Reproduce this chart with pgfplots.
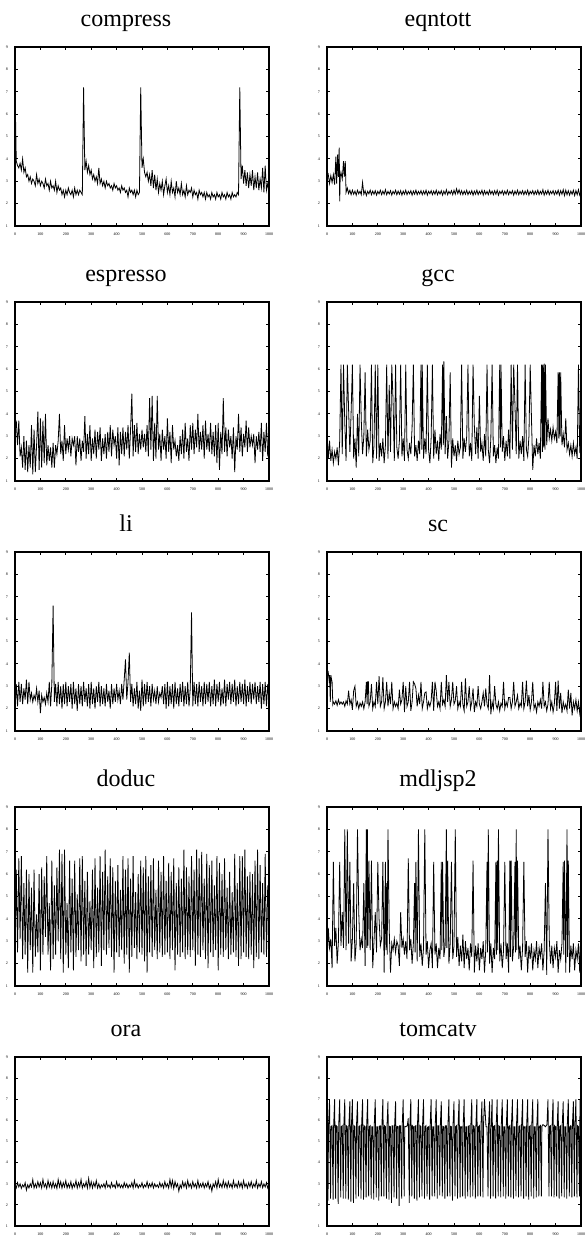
\documentclass[border=0pt]{standalone}
\usepackage{fontspec}
\setmainfont{Liberation Serif}
\usepackage{pgfplots}
\pgfplotsset{compat=1.18}

\pgfplotsset{
  pane/.style={
    scale only axis, width=127pt, height=89.5pt, anchor=north west,
    xmin=0, xmax=1000, ymin=1, ymax=9,
    xtick={0,100,...,1000}, ytick={1,2,...,9},
    tick align=inside, major tick length=1.5pt,
    tick style={line width=0.4pt, black},
    axis line style={line width=0.6pt},
    tick label style={font=\fontsize{2}{2.4}\selectfont, /pgf/number format/assume math mode=true, /pgf/number format/1000 sep={}},
    every axis title/.style={at={(0.5,1)}, anchor=base, yshift=10.5pt, xshift=-8pt, font=\fontsize{12}{14}\selectfont},
    cycle list={{black, line width=1.1pt, mark=none, line join=round}},
  }
}

\begin{document}
\begin{tikzpicture}
\path[use as bounding box] (0,0) rectangle (292pt,-621.5pt);

% row 1
\begin{axis}[pane, at={(7.5pt,-23.5pt)}, title={compress}]
\addplot coordinates {(0,7.2)(5,3.9)(10,3.7)(15,3.6)(20,3.8)(25,3.5)(30,4.0)(35,3.4)(40,3.6)(45,3.2)
(50,3.3)(55,3.0)(60,3.2)(65,2.9)(70,3.1)(75,3.0)(80,2.8)(85,3.3)(90,2.9)(95,3.1)
(100,2.8)(105,3.0)(110,2.9)(115,2.7)(120,3.1)(125,2.8)(130,2.9)(135,2.6)(140,3.0)(145,2.7)
(150,2.8)(155,2.6)(160,3.0)(165,2.5)(170,2.8)(175,2.6)(180,2.7)(185,2.4)(190,2.6)(195,2.3)
(200,2.6)(205,2.4)(210,2.7)(215,2.5)(220,2.4)(225,2.6)(230,2.3)(235,2.7)(240,2.4)(245,2.6)
(250,2.4)(255,2.6)(260,2.5)(265,2.4)(270,7.2)(275,3.5)(280,3.9)(285,3.4)(290,3.7)(295,3.3)
(300,3.5)(305,3.1)(310,3.3)(315,3.0)(320,3.2)(325,2.9)(330,3.6)(335,2.9)(340,3.1)(345,2.8)
(350,3.0)(355,2.7)(360,3.0)(365,2.8)(370,2.9)(375,2.7)(380,2.8)(385,2.6)(390,2.9)(395,2.7)
(400,2.8)(405,2.6)(410,2.7)(415,2.5)(420,2.8)(425,2.6)(430,2.7)(435,2.5)(440,2.6)(445,2.3)
(450,2.7)(455,2.5)(460,2.6)(465,2.4)(470,2.6)(475,2.3)(480,2.6)(485,2.4)(490,2.5)(495,7.2)
(500,3.6)(505,4.0)(510,3.4)(515,3.2)(520,3.4)(525,3.0)(530,3.3)(535,2.8)(540,3.5)(545,2.7)
(550,3.3)(555,2.6)(560,3.1)(565,2.5)(570,2.9)(575,2.6)(580,3.0)(585,2.4)(590,2.8)(595,3.1)
(600,2.5)(605,2.8)(610,2.4)(615,3.0)(620,2.5)(625,2.7)(630,2.3)(635,3.0)(640,2.5)(645,2.7)
(650,2.4)(655,2.9)(660,2.4)(665,2.6)(670,2.3)(675,2.8)(680,2.4)(685,2.6)(690,2.5)(695,2.7)
(700,2.3)(705,2.6)(710,2.4)(715,2.5)(720,2.2)(725,2.6)(730,2.4)(735,2.5)(740,2.3)(745,2.5)
(750,2.2)(755,2.5)(760,2.3)(765,2.4)(770,2.2)(775,2.5)(780,2.3)(785,2.4)(790,2.2)(795,2.5)
(800,2.3)(805,2.4)(810,2.2)(815,2.5)(820,2.3)(825,2.4)(830,2.2)(835,2.5)(840,2.3)(845,2.4)
(850,2.2)(855,2.5)(860,2.3)(865,2.4)(870,2.3)(875,2.5)(880,2.4)(885,7.2)(890,3.1)(895,3.7)
(900,2.9)(905,3.5)(910,2.8)(915,3.4)(920,2.7)(925,3.3)(930,2.8)(935,3.5)(940,2.6)(945,3.2)
(950,2.7)(955,3.4)(960,2.6)(965,3.1)(970,2.7)(975,3.6)(980,2.5)(985,3.7)(990,2.6)(995,2.9)(1000,2.5)};
\end{axis}

\begin{axis}[pane, at={(163.5pt,-23.5pt)}, title={eqntott}]
\addplot coordinates {(0,3.1)(5,3.3)(10,2.9)(15,3.25)(20,2.95)(25,3.3)(30,2.85)(35,4.1)(38,2.9)(42,4.2)(45,3.2)(48,4.5)(50,2.1)(52,3.2)(55,3.4)(60,3.1)(65,3.9)(68,3.2)(72,3.9)(75,2.5)(80,2.7)(85,2.45)(90,2.6)(95,2.4)
(100,2.6)(105,2.42)(110,2.56)(115,2.38)(120,2.6)(125,2.44)(130,2.55)(135,2.4)(140,2.95)(145,2.42)(150,2.58)(155,2.36)(160,2.55)(165,2.44)(170,2.6)(175,2.4)(180,2.56)(185,2.42)(190,2.58)(195,2.38)
(200,2.55)(205,2.44)(210,2.6)(215,2.4)(220,2.56)(225,2.42)(230,2.62)(235,2.4)(240,2.55)(245,2.43)(250,2.58)(255,2.38)(260,2.55)(265,2.44)(270,2.6)(275,2.4)(280,2.56)(285,2.42)(290,2.58)(295,2.38)
(300,2.56)(305,2.42)(310,2.6)(315,2.4)(320,2.55)(325,2.44)(330,2.58)(335,2.38)(340,2.56)(345,2.42)(350,2.6)(355,2.4)(360,2.55)(365,2.43)(370,2.58)(375,2.4)(380,2.56)(385,2.42)(390,2.6)(395,2.38)
(400,2.55)(405,2.44)(410,2.58)(415,2.4)(420,2.56)(425,2.42)(430,2.6)(435,2.4)(440,2.55)(445,2.43)(450,2.58)(455,2.38)(460,2.56)(465,2.42)(470,2.62)(475,2.4)(480,2.55)(485,2.44)(490,2.58)(495,2.4)
(500,2.6)(505,2.42)(510,2.66)(515,2.45)(520,2.62)(525,2.42)(530,2.58)(535,2.4)(540,2.56)(545,2.42)(550,2.6)(555,2.4)(560,2.55)(565,2.43)(570,2.58)(575,2.38)(580,2.56)(585,2.42)(590,2.6)(595,2.4)
(600,2.55)(605,2.44)(610,2.6)(615,2.38)(620,2.58)(625,2.42)(630,2.55)(635,2.4)(640,2.6)(645,2.43)(650,2.56)(655,2.4)(660,2.58)(665,2.42)(670,2.6)(675,2.38)(680,2.55)(685,2.44)(690,2.58)(695,2.4)
(700,2.56)(705,2.42)(710,2.6)(715,2.4)(720,2.55)(725,2.44)(730,2.58)(735,2.38)(740,2.56)(745,2.42)(750,2.6)(755,2.4)(760,2.55)(765,2.43)(770,2.58)(775,2.4)(780,2.56)(785,2.42)(790,2.6)(795,2.38)
(800,2.55)(805,2.44)(810,2.58)(815,2.4)(820,2.56)(825,2.42)(830,2.6)(835,2.4)(840,2.55)(845,2.43)(850,2.62)(855,2.38)(860,2.56)(865,2.42)(870,2.6)(875,2.4)(880,2.55)(885,2.44)(890,2.58)(895,2.4)
(900,2.56)(905,2.42)(910,2.6)(915,2.38)(920,2.58)(925,2.42)(930,2.62)(935,2.36)(940,2.6)(945,2.4)(950,2.58)(955,2.38)(960,2.56)(965,2.42)(970,2.6)(975,2.36)(980,2.58)(985,2.4)(990,2.62)(995,2.38)(1000,2.55)};
\end{axis}

% row 2
\begin{axis}[pane, at={(7.5pt,-151pt)}, title={espresso}]
\addplot coordinates {(0,3.2)(5,3.7)(10,2.6)(15,3.7)(20,2.1)(25,2.5)(30,1.6)(35,3.0)(40,1.5)(45,2.8)
(50,1.4)(55,2.6)(60,1.6)(65,3.5)(70,1.3)(75,3.3)(80,1.4)(85,2.6)(90,4.1)(95,1.5)
(100,3.8)(105,1.6)(110,3.7)(115,1.8)(120,4.0)(125,1.7)(130,2.6)(135,1.9)(140,2.5)(145,1.6)
(150,2.7)(155,1.6)(160,2.6)(165,2.2)(170,2.8)(175,4.0)(180,2.2)(185,2.8)(190,1.9)(195,3.5)
(200,2.2)(205,2.9)(210,2.4)(215,3.0)(220,2.1)(225,2.9)(230,2.6)(235,3.0)(240,1.7)(245,3.0)
(250,2.3)(255,2.9)(260,1.9)(265,2.8)(270,2.3)(275,3.9)(280,2.0)(285,3.1)(290,2.2)(295,3.5)
(300,1.9)(305,2.9)(310,2.2)(315,3.3)(320,2.0)(325,3.2)(330,2.4)(335,3.4)(340,1.9)(345,2.9)
(350,2.2)(355,3.1)(360,2.0)(365,3.2)(370,2.3)(375,3.5)(380,2.1)(385,3.3)(390,2.6)(395,3.0)
(400,2.0)(405,3.4)(410,1.7)(415,3.2)(420,2.2)(425,3.4)(430,2.1)(435,3.2)(440,2.4)(445,3.5)
(450,2.0)(455,3.3)(460,4.9)(465,2.1)(470,3.5)(475,2.3)(480,3.6)(485,2.2)(490,3.1)(495,2.4)
(500,3.3)(505,2.5)(510,3.1)(515,2.3)(520,3.5)(525,2.1)(530,4.7)(535,2.4)(540,4.8)(545,1.9)
(550,3.6)(555,2.0)(560,4.8)(565,2.4)(570,3.1)(575,1.9)(580,3.3)(585,2.4)(590,3.0)(595,2.0)
(600,3.8)(605,2.3)(610,3.2)(615,1.8)(620,3.5)(625,2.4)(630,2.8)(635,2.1)(640,2.6)(645,1.9)
(650,3.0)(655,2.2)(660,3.3)(665,2.0)(670,3.6)(675,2.3)(680,2.9)(685,1.9)(690,3.5)(695,2.4)
(700,3.6)(705,2.2)(710,3.3)(715,2.5)(720,4.0)(725,2.3)(730,3.2)(735,2.4)(740,3.5)(745,2.0)
(750,3.7)(755,2.4)(760,3.1)(765,2.3)(770,3.6)(775,2.2)(780,3.2)(785,2.1)(790,3.5)(795,1.8)
(800,3.6)(805,1.5)(810,3.2)(815,2.2)(820,4.7)(825,2.3)(830,3.4)(835,2.1)(840,3.3)(845,2.5)
(850,3.0)(855,2.0)(860,3.4)(865,1.4)(870,3.0)(875,2.4)(880,4.0)(885,2.3)(890,3.4)(895,2.1)
(900,3.1)(905,2.5)(910,3.7)(915,2.3)(920,3.4)(925,2.5)(930,3.0)(935,2.6)(940,3.1)(945,1.8)
(950,3.0)(955,2.4)(960,3.2)(965,2.3)(970,3.6)(975,1.9)(980,3.2)(985,2.3)(990,3.6)(995,2.1)(1000,3.0)};
\end{axis}

\begin{axis}[pane, at={(163.5pt,-151pt)}, title={gcc}]
\addplot coordinates {(0,3.2)(5,2.0)(10,2.8)(15,1.9)(20,2.4)(25,1.8)(30,2.3)(35,2.0)(40,2.5)(45,1.7)
(50,2.8)(55,6.2)(60,2.2)(65,6.2)(70,3.6)(75,1.9)(80,6.2)(85,4.2)(90,2.3)(95,4.1)
(100,6.2)(105,2.0)(110,2.9)(115,1.6)(120,4.0)(125,2.1)(130,6.2)(135,3.7)(140,2.2)(145,3.0)
(150,5.85)(155,2.1)(160,3.3)(165,2.4)(170,2.8)(175,6.2)(180,1.8)(185,2.6)(190,6.2)(195,2.0)
(200,6.2)(205,1.9)(210,2.7)(215,2.1)(220,2.9)(225,1.8)(230,2.6)(235,6.2)(240,2.0)(245,5.3)
(250,2.3)(255,6.2)(260,4.6)(265,1.9)(270,6.2)(275,2.5)(280,2.0)(285,2.8)(290,6.2)(295,2.1)
(300,2.9)(305,1.9)(310,6.2)(315,2.4)(320,2.0)(325,2.7)(330,2.2)(335,3.4)(340,6.2)(345,2.1)
(350,2.6)(355,1.9)(360,2.8)(365,2.2)(370,6.2)(373,2.4)(375,6.2)(380,2.0)(385,2.9)(390,2.2)(395,6.2)
(400,2.4)(405,1.8)(410,2.9)(415,6.2)(420,2.0)(425,3.3)(430,2.2)(435,2.8)(440,1.9)(445,3.1)
(450,2.4)(455,6.2)(458,2.6)(460,6.35)(465,2.2)(470,3.9)(475,2.0)(480,2.8)(485,5.85)(490,1.6)(495,2.9)
(500,2.1)(505,2.6)(510,1.9)(515,2.8)(520,2.2)(525,2.5)(530,6.2)(535,2.0)(540,2.9)(545,2.3)
(550,3.0)(555,6.2)(560,2.1)(565,2.7)(570,1.9)(575,6.2)(580,3.5)(585,2.2)(590,3.4)(595,2.0)
(600,4.8)(605,2.3)(610,2.7)(615,1.9)(620,3.1)(625,2.1)(630,6.2)(635,2.4)(640,1.8)(645,2.9)
(650,6.2)(655,2.1)(660,2.6)(665,1.8)(670,2.5)(675,2.0)(680,6.2)(683,2.5)(685,6.2)(690,2.3)(695,3.0)
(700,1.9)(705,2.8)(710,2.1)(715,3.3)(720,2.0)(725,6.2)(730,2.4)(735,6.2)(740,4.4)(745,2.2)
(750,6.2)(755,2.0)(760,2.8)(765,2.2)(770,3.0)(775,1.9)(780,6.2)(785,2.4)(790,2.1)(795,3.0)
(800,6.2)(805,3.8)(810,1.5)(815,2.6)(820,2.1)(825,2.9)(830,2.2)(835,2.7)(840,2.0)(845,6.2)
(848,2.3)(850,6.2)(853,2.5)(855,6.25)(858,2.4)(860,6.2)(865,2.6)(870,3.8)(875,2.9)(880,3.3)(885,2.8)(890,3.4)(895,2.9)
(900,3.2)(905,2.7)(910,5.85)(913,2.9)(915,5.85)(918,3.0)(920,5.85)(925,2.6)(930,3.1)(935,2.5)(940,3.8)(945,2.4)
(950,2.7)(955,2.2)(960,2.6)(965,2.1)(970,2.7)(975,2.2)(980,2.5)(985,2.0)(990,6.2)(995,2.3)(1000,2.4)};
\end{axis}

% row 3
\begin{axis}[pane, at={(7.5pt,-276pt)}, title={li}]
\addplot coordinates {(0,1.9)(5,3.1)(10,2.1)(15,3.2)(20,2.3)(25,3.1)(30,2.2)(35,2.9)(40,2.4)(45,3.3)
(50,2.2)(55,3.2)(60,2.4)(65,2.7)(70,2.3)(75,2.6)(80,2.4)(85,2.9)(90,2.3)(95,2.8)
(100,1.8)(105,2.6)(110,2.3)(115,2.5)(120,2.2)(125,2.7)(130,2.3)(135,3.2)(140,2.1)(145,3.1)
(150,6.6)(155,2.3)(160,3.1)(165,2.1)(170,3.2)(175,2.2)(180,3.0)(185,2.0)(190,3.1)(195,2.2)
(200,3.2)(205,2.1)(210,3.0)(215,2.3)(220,3.1)(225,2.0)(230,3.2)(235,2.2)(240,2.9)(245,1.9)
(250,3.1)(255,2.2)(260,3.0)(265,2.1)(270,3.2)(275,2.3)(280,2.9)(285,2.1)(290,3.1)(295,2.0)
(300,3.2)(305,2.2)(310,2.9)(315,2.0)(320,3.0)(325,2.3)(330,3.2)(335,2.1)(340,3.0)(345,2.2)
(350,2.9)(355,2.1)(360,3.1)(365,2.3)(370,2.8)(375,2.0)(380,3.1)(385,2.2)(390,2.9)(395,2.3)
(400,3.1)(405,2.4)(410,2.8)(415,2.2)(420,3.1)(425,2.4)(430,3.3)(435,4.2)(440,2.4)(445,3.2)
(450,4.5)(455,2.3)(460,3.1)(465,2.1)(470,2.9)(475,2.2)(480,3.2)(485,2.0)(490,2.8)(495,1.9)
(500,3.3)(505,2.1)(510,3.1)(515,2.2)(520,3.2)(525,2.3)(530,3.0)(535,2.1)(540,3.1)(545,2.4)
(550,2.8)(555,2.2)(560,3.0)(565,2.3)(570,2.7)(575,2.5)(580,3.0)(585,2.2)(590,3.1)(595,2.0)
(600,3.2)(605,2.1)(610,3.0)(615,2.2)(620,3.1)(625,2.0)(630,3.2)(635,2.2)(640,2.9)(645,2.1)
(650,3.1)(655,2.3)(660,3.2)(665,2.1)(670,3.0)(675,2.2)(680,3.2)(685,2.1)(690,2.9)(695,6.3)
(700,2.1)(705,3.2)(710,2.2)(715,3.1)(720,2.1)(725,3.2)(730,2.3)(735,3.0)(740,2.1)(745,3.2)
(750,2.2)(755,3.1)(760,2.3)(765,3.2)(770,2.1)(775,3.0)(780,2.2)(785,3.3)(790,2.1)(795,3.1)
(800,2.3)(805,3.2)(810,2.1)(815,2.9)(820,2.2)(825,3.3)(830,2.1)(835,3.1)(840,2.4)(845,3.2)
(850,2.2)(855,3.1)(860,2.3)(865,3.3)(870,2.1)(875,3.0)(880,2.2)(885,3.2)(890,2.3)(895,3.1)
(900,2.2)(905,3.3)(910,2.1)(915,3.0)(920,2.3)(925,3.2)(930,2.2)(935,3.1)(940,2.4)(945,3.2)
(950,2.2)(955,3.0)(960,2.3)(965,3.2)(970,2.0)(975,3.1)(980,2.2)(985,3.2)(990,2.1)(995,3.1)(1000,2.3)};
\end{axis}

\begin{axis}[pane, at={(163.5pt,-276pt)}, title={sc}]
\addplot coordinates {(0,3.9)(3,3.5)(5,3.6)(8,3.3)(10,3.5)(13,2.3)(15,3.5)(18,3.3)(20,3.2)(23,2.2)
(25,2.3)(30,2.2)(35,2.35)(40,2.15)(45,2.4)(50,2.2)(55,2.3)(60,2.2)(65,2.3)(70,2.1)(75,2.35)(80,2.2)(85,2.8)(90,2.2)(95,2.4)
(100,1.95)(105,2.8)(110,3.0)(115,2.1)(120,2.3)(125,2.0)(130,2.25)(135,2.1)(140,2.3)(145,2.0)
(150,2.3)(155,3.2)(158,2.2)(160,3.2)(163,3.2)(165,2.1)(170,2.3)(175,3.1)(180,2.0)(185,2.3)(190,2.1)(195,3.2)
(200,2.2)(205,3.45)(210,2.1)(215,2.3)(220,3.4)(225,2.0)(230,2.3)(235,3.2)(240,2.1)(245,2.7)
(250,2.2)(255,3.2)(260,2.0)(265,2.3)(270,2.1)(275,2.25)(280,2.0)(285,2.85)(290,2.2)(295,2.4)
(300,3.2)(305,1.85)(310,3.0)(315,2.1)(320,2.3)(325,3.2)(330,1.9)(335,2.3)(340,3.2)(345,3.1)
(350,2.9)(355,2.1)(360,2.6)(365,2.2)(370,3.2)(375,2.0)(380,2.3)(385,2.7)(390,2.75)(395,2.0)
(400,2.3)(405,2.1)(410,2.35)(415,3.2)(420,1.9)(425,3.2)(430,2.8)(435,2.1)(440,2.3)(445,2.0)
(450,3.2)(455,2.2)(460,2.4)(465,2.1)(470,3.5)(475,2.3)(480,3.2)(485,2.1)(490,2.4)(495,3.2)
(500,2.2)(505,2.35)(510,3.0)(515,2.0)(520,2.3)(525,2.1)(530,3.2)(535,2.2)(540,1.9)(545,3.35)
(550,2.1)(555,2.3)(560,3.0)(565,2.0)(570,2.3)(575,2.9)(580,1.85)(585,2.3)(590,2.1)(595,3.0)
(600,2.2)(605,2.0)(610,2.3)(615,2.7)(620,2.1)(625,2.9)(630,2.2)(635,2.0)(640,3.5)(645,1.75)
(650,2.3)(655,2.0)(660,3.0)(665,2.2)(670,2.0)(675,2.3)(680,1.9)(685,2.25)(690,2.1)(695,3.2)
(700,2.0)(705,2.3)(710,2.1)(715,2.5)(720,2.5)(725,2.0)(730,2.3)(735,3.2)(740,2.1)(745,2.3)
(750,2.6)(755,2.0)(760,2.25)(765,2.1)(770,3.2)(775,2.0)(780,2.3)(785,3.25)(790,2.1)(795,2.6)
(800,1.95)(805,2.3)(810,3.2)(815,2.0)(820,2.2)(825,1.85)(830,2.3)(835,2.1)(840,2.4)(845,2.0)
(850,3.2)(855,2.1)(860,2.3)(865,1.9)(870,2.2)(875,3.2)(880,2.0)(885,2.3)(890,1.85)(895,2.2)
(900,3.2)(905,1.9)(910,3.25)(915,2.0)(920,2.7)(925,1.8)(930,2.3)(935,2.0)(940,2.2)(945,1.9)
(950,2.85)(955,2.0)(960,2.7)(965,1.7)(970,2.3)(975,2.0)(980,2.4)(985,1.9)(990,2.3)(995,1.8)(1000,2.3)};
\end{axis}

% row 4
\begin{axis}[pane, at={(7.5pt,-403.5pt)}, title={doduc}]
\addplot coordinates {(0,2.3)(5,6.2)(10,2.5)(15,6.7)(20,3.1)(25,6.8)(30,2.2)(35,5.6)(40,2.4)(45,6.2)
(50,1.6)(55,6.0)(60,2.6)(65,5.4)(70,1.6)(75,6.2)(80,2.3)(85,4.2)(90,2.5)(95,6.0)
(100,1.7)(105,6.3)(110,2.4)(115,5.9)(120,3.2)(125,6.8)(130,2.4)(135,4.7)(140,1.7)(145,6.6)
(150,2.2)(155,5.5)(160,2.4)(165,6.3)(170,3.0)(175,7.1)(180,2.2)(185,6.9)(190,1.6)(195,7.1)
(200,2.4)(205,4.7)(210,1.8)(215,6.6)(220,2.5)(225,5.8)(230,1.7)(235,6.6)(240,2.3)(245,5.1)
(250,2.6)(255,6.7)(260,2.1)(265,6.8)(270,2.4)(275,5.7)(280,1.9)(285,6.1)(290,2.4)(295,4.8)
(300,2.6)(305,6.2)(310,1.8)(315,6.7)(320,2.3)(325,5.4)(330,2.5)(335,6.8)(340,1.9)(345,6.1)
(350,2.6)(355,7.1)(360,2.4)(365,5.9)(370,2.7)(375,6.7)(380,2.3)(385,6.3)(390,1.6)(395,5.7)
(400,2.5)(405,6.4)(410,2.3)(415,5.3)(420,2.6)(425,6.8)(430,2.0)(435,6.2)(440,2.4)(445,6.7)
(450,1.6)(455,5.8)(460,2.3)(465,6.8)(470,2.7)(475,5.2)(480,2.2)(485,6.0)(490,2.5)(495,6.6)
(500,2.4)(505,6.3)(510,2.1)(515,6.8)(520,1.6)(525,5.9)(530,2.5)(535,6.4)(540,2.3)(545,6.7)
(550,2.6)(555,5.3)(560,2.2)(565,6.6)(570,2.5)(575,6.1)(580,2.3)(585,6.8)(590,2.4)(595,5.7)
(600,2.5)(605,6.5)(610,2.2)(615,6.1)(620,2.6)(625,6.7)(630,1.7)(635,5.6)(640,2.4)(645,6.3)
(650,2.3)(655,5.8)(660,2.5)(665,7.1)(670,2.2)(675,6.3)(680,2.4)(685,5.9)(690,2.3)(695,6.8)
(700,2.6)(705,6.2)(710,1.9)(715,7.1)(720,2.4)(725,6.7)(730,2.3)(735,7.0)(740,2.6)(745,5.8)
(750,2.2)(755,6.9)(760,1.8)(765,6.4)(770,2.5)(775,6.6)(780,2.3)(785,5.5)(790,2.6)(795,6.8)
(800,1.7)(805,6.5)(810,2.4)(815,6.0)(820,2.3)(825,6.7)(830,2.6)(835,5.4)(840,2.2)(845,6.1)
(850,2.4)(855,5.2)(860,2.5)(865,6.9)(870,2.3)(875,5.6)(880,1.9)(885,6.8)(890,2.2)(895,6.8)
(900,2.5)(905,7.1)(910,2.3)(915,5.9)(920,2.2)(925,6.1)(930,2.4)(935,6.0)(940,1.8)(945,6.6)
(950,2.3)(955,7.1)(960,2.2)(965,6.4)(970,2.5)(975,5.6)(980,2.4)(985,6.9)(990,2.3)(995,5.5)(1000,3.7)};
\end{axis}

\begin{axis}[pane, at={(163.5pt,-403.5pt)}, title={mdljsp2}]
\addplot coordinates {(0,1.9)(5,3.6)(10,2.7)(15,3.1)(20,1.8)(25,6.55)(30,2.8)(35,3.6)(40,2.0)(45,3.0)
(50,6.55)(55,2.8)(60,4.3)(65,2.7)(70,8.0)(75,2.6)(80,8.0)(85,2.9)(90,6.55)(95,2.1)
(100,3.1)(105,5.6)(110,2.1)(115,2.9)(120,8.0)(125,4.3)(130,2.6)(135,3.1)(140,2.7)(145,5.6)
(150,1.9)(155,8.0)(157,2.7)(159,8.0)(161,2.8)(165,6.6)(170,2.6)(175,6.6)(180,1.8)(185,3.0)(190,4.3)
(195,2.5)(200,6.55)(205,4.0)(210,2.8)(215,3.1)(220,6.55)(225,1.6)(230,6.55)(232,2.6)(235,5.6)(237,2.4)(240,8.0)
(245,3.5)(250,1.6)(255,2.9)(260,2.6)(265,3.1)(270,2.5)(275,3.0)(280,2.8)(285,1.9)(290,4.3)
(295,2.7)(300,3.1)(305,2.4)(310,3.0)(315,2.2)(320,6.7)(325,2.6)(330,3.1)(335,2.0)(340,2.9)
(345,5.6)(347,2.5)(350,6.55)(355,2.1)(360,8.0)(365,2.3)(370,2.9)(375,1.9)(380,2.7)(385,8.0)(390,2.4)
(395,3.0)(400,1.8)(405,2.6)(410,2.9)(415,1.8)(420,6.55)(425,2.4)(430,2.9)(435,1.8)(440,2.7)
(445,2.2)(450,6.55)(452,2.6)(455,6.55)(460,2.3)(465,2.8)(470,8.0)(472,2.7)(475,6.6)(480,2.0)(485,2.9)(490,6.55)
(495,2.2)(500,2.8)(505,8.0)(510,2.3)(515,3.2)(520,1.9)(525,2.8)(530,2.1)(535,3.3)(540,1.8)
(545,3.0)(550,2.2)(555,2.7)(560,1.7)(565,2.9)(570,2.3)(575,6.6)(580,1.6)(585,2.8)(590,2.1)
(595,2.9)(600,1.7)(605,2.7)(610,2.2)(615,3.0)(620,1.6)(625,2.6)(630,6.55)(632,2.5)(635,8.0)(640,2.0)
(645,2.9)(650,1.6)(655,2.7)(660,2.2)(665,6.55)(667,2.4)(670,6.6)(672,2.6)(675,8.0)(680,2.1)(685,2.9)(690,1.8)
(695,2.6)(700,6.55)(705,2.2)(710,2.9)(715,1.6)(720,6.6)(722,2.3)(725,6.6)(730,2.1)(735,2.8)(740,6.55)
(742,2.5)(745,8.0)(747,2.6)(750,6.6)(755,2.2)(760,2.8)(765,1.7)(770,2.7)(775,6.55)(780,2.3)(785,3.0)(790,1.6)
(795,2.8)(800,2.2)(805,2.9)(810,1.7)(815,2.6)(820,2.2)(825,3.0)(830,1.8)(835,2.7)(840,2.3)
(845,2.9)(850,1.7)(855,2.6)(860,5.6)(865,1.5)(870,8.0)(875,3.1)(880,2.0)(885,2.8)(890,1.8)
(895,2.7)(900,2.3)(905,3.0)(910,1.6)(915,2.6)(920,2.2)(925,2.9)(930,6.55)(932,2.4)(935,6.6)(940,1.6)
(945,8.0)(947,2.3)(950,6.6)(955,1.6)(960,2.8)(965,2.2)(970,2.9)(975,1.7)(980,2.6)(985,2.2)(990,2.9)(995,1.6)(1000,3.9)};
\end{axis}

% row 5
\begin{axis}[pane, height=84.5pt, at={(7.5pt,-528.5pt)}, title={ora}]
\addplot coordinates {(0,2.95)(5,2.8)(10,3.05)(15,2.85)(20,3.0)(25,2.78)(30,2.95)(35,2.85)(40,3.05)(45,2.7)
(50,2.95)(55,2.8)(60,3.0)(65,2.85)(70,3.2)(75,2.8)(80,3.0)(85,2.82)(90,3.1)(95,2.85)
(100,3.05)(105,2.8)(110,3.2)(115,2.85)(120,3.0)(125,2.78)(130,3.15)(135,2.85)(140,3.05)(145,2.8)
(150,3.1)(155,2.82)(160,3.0)(165,2.78)(170,3.2)(175,2.85)(180,3.1)(185,2.8)(190,3.05)(195,2.85)
(200,3.15)(205,2.8)(210,3.0)(215,2.82)(220,3.1)(225,2.78)(230,3.0)(235,2.85)(240,3.15)(245,2.8)
(250,3.05)(255,2.85)(260,3.2)(265,2.8)(270,3.0)(275,2.85)(280,3.1)(285,2.8)(290,3.25)(295,2.82)
(300,3.1)(305,2.8)(310,3.05)(315,2.85)(320,3.15)(325,2.8)(330,3.0)(335,2.78)(340,2.95)(345,2.85)
(350,3.0)(355,2.8)(360,3.1)(365,2.85)(370,2.95)(375,2.8)(380,3.05)(385,2.85)(390,2.95)(395,2.8)
(400,3.1)(405,2.85)(410,3.0)(415,2.82)(420,2.95)(425,2.8)(430,3.05)(435,2.85)(440,3.0)(445,2.8)
(450,2.95)(455,2.85)(460,3.05)(465,2.8)(470,3.15)(475,2.85)(480,3.0)(485,2.8)(490,2.95)(495,2.85)
(500,3.05)(505,2.8)(510,2.95)(515,2.85)(520,3.1)(525,2.82)(530,3.0)(535,2.85)(540,3.05)(545,2.8)
(550,3.0)(555,2.85)(560,2.95)(565,2.82)(570,3.05)(575,2.85)(580,3.0)(585,2.8)(590,3.1)(595,2.85)
(600,3.0)(605,2.8)(610,3.2)(615,2.85)(620,3.15)(625,2.78)(630,3.1)(635,2.85)(640,3.0)(645,2.65)
(650,2.95)(655,2.8)(660,3.1)(665,2.85)(670,3.05)(675,2.8)(680,3.15)(685,2.85)(690,3.0)(695,2.8)
(700,3.1)(705,2.85)(710,3.0)(715,2.8)(720,3.15)(725,2.82)(730,3.0)(735,2.85)(740,3.05)(745,2.8)
(750,3.0)(755,2.85)(760,3.1)(765,2.78)(770,2.95)(775,2.65)(780,3.0)(785,2.85)(790,3.1)(795,2.8)
(800,3.2)(805,2.85)(810,3.0)(815,2.82)(820,3.15)(825,2.85)(830,3.05)(835,2.8)(840,3.1)(845,2.85)
(850,3.0)(855,2.8)(860,3.15)(865,2.85)(870,3.0)(875,2.82)(880,3.1)(885,2.85)(890,3.05)(895,2.8)
(900,3.15)(905,2.85)(910,3.0)(915,2.8)(920,3.05)(925,2.85)(930,3.1)(935,2.82)(940,3.0)(945,2.85)
(950,3.15)(955,2.8)(960,3.0)(965,2.85)(970,3.1)(975,2.82)(980,3.0)(985,2.85)(990,3.05)(995,2.8)(1000,2.95)};
\end{axis}

\begin{axis}[pane, height=84.5pt, at={(163.5pt,-528.5pt)}, title={tomcatv}]
\addplot coordinates {(0,5.7)(4,2.2)(6,5.75)(10,7.0)(14,2.3)(16,5.7)(20,5.75)(24,2.25)(26,5.7)(30,7.0)(34,2.3)(36,5.75)
(40,5.7)(44,2.05)(46,5.72)(50,7.0)(54,2.35)(56,5.7)(60,5.75)(64,2.3)(66,5.68)(70,7.0)(74,2.3)(76,5.75)
(80,5.7)(84,2.25)(86,5.72)(90,6.9)(94,2.15)(96,5.7)(100,7.0)(104,2.1)(106,5.75)(110,5.7)(114,2.3)(116,5.72)
(120,6.9)(124,2.4)(126,5.7)(130,5.75)(134,2.3)(136,5.68)(140,7.0)(144,2.25)(146,5.75)(150,5.7)(154,2.35)(156,5.72)
(160,7.0)(164,2.4)(166,5.7)(170,5.75)(174,2.3)(176,5.7)(180,5.7)(184,2.25)(186,5.75)(190,7.0)(194,2.35)(196,5.7)
(200,5.7)(204,2.2)(206,5.72)(210,5.75)(214,2.4)(216,5.7)(220,7.0)(224,2.4)(226,5.75)(230,5.7)(234,2.3)(236,5.68)
(240,6.9)(244,2.25)(246,5.72)(250,5.7)(254,2.1)(256,5.75)(260,5.75)(264,2.35)(266,5.7)(270,6.9)(274,2.3)(276,5.72)
(280,5.7)(284,1.95)(286,5.75)(290,5.75)(294,2.3)(296,5.7)(300,7.0)(304,2.4)(306,5.72)(310,5.7)(316,5.75)
(320,6.1)(324,2.1)(326,5.7)(330,7.0)(334,2.4)(336,5.75)(340,5.7)(344,2.3)(346,5.72)(350,5.75)(354,2.2)(356,5.7)
(360,7.0)(364,2.35)(366,5.75)(370,5.7)(374,2.4)(376,5.72)(380,7.0)(384,2.3)(386,5.7)(390,5.75)(394,2.4)(396,5.68)
(400,5.7)(404,2.25)(406,5.75)(410,7.0)(414,2.4)(416,5.7)(420,5.7)(424,2.4)(426,5.72)(430,7.0)(434,2.3)(436,5.75)
(440,5.75)(444,2.45)(446,5.7)(450,6.9)(454,2.4)(456,5.72)(460,5.7)(464,2.3)(466,5.75)(470,5.75)(474,2.4)(476,5.7)
(480,7.0)(484,2.4)(486,5.72)(490,5.7)(494,2.2)(496,5.75)(500,6.9)(504,2.4)(506,5.7)(510,5.75)(514,2.3)(516,5.72)
(520,7.0)(524,2.35)(526,5.7)(530,5.7)(534,2.4)(536,5.75)(540,7.0)(544,2.3)(546,5.7)(550,5.7)(554,2.4)(556,5.72)
(560,5.75)(564,2.35)(566,5.7)(570,7.0)(574,2.4)(576,5.75)(580,5.7)(584,2.3)(586,5.72)(590,7.0)(594,2.4)(596,5.7)
(600,5.75)(604,2.4)(606,5.7)(610,6.9)(614,2.35)(616,5.72)(620,7.0)(626,5.7)(630,5.7)(634,2.4)(636,5.75)
(640,6.9)(644,2.3)(646,5.7)(650,7.0)(654,2.4)(656,5.72)(660,5.75)(664,2.3)(666,5.7)(670,7.0)(674,2.4)(676,5.75)
(680,5.7)(684,2.35)(686,5.72)(690,7.0)(694,2.4)(696,5.7)(700,5.7)(704,2.3)(706,5.75)(710,7.0)(714,2.4)(716,5.7)
(720,5.75)(724,2.35)(726,5.72)(730,7.0)(734,2.3)(736,5.7)(740,5.7)(744,2.4)(746,5.75)(750,7.0)(754,2.35)(756,5.7)
(760,5.75)(764,2.4)(766,5.72)(770,7.0)(774,2.3)(776,5.7)(780,5.7)(784,2.4)(786,5.75)(790,7.0)(794,2.25)(796,5.7)
(800,5.75)(804,2.4)(806,5.72)(810,7.0)(814,2.3)(816,5.7)(820,5.7)(824,2.35)(826,5.75)(830,7.0)(834,2.4)(836,5.7)
(840,5.75)(844,2.4)(846,5.72)(850,5.8)(856,5.75)(860,5.7)(866,5.8)
(870,7.0)(874,2.4)(876,5.72)(880,5.75)(884,2.4)(886,5.7)(890,7.0)(894,2.35)(896,5.75)(900,5.7)(904,2.4)(906,5.72)
(910,6.9)(914,2.3)(916,5.7)(920,5.75)(924,2.4)(926,5.72)(930,6.9)(934,2.35)(936,5.7)(940,5.7)(944,2.3)(946,5.75)
(950,7.0)(954,2.4)(956,5.7)(960,5.75)(964,2.35)(966,5.72)(970,6.9)(974,2.4)(976,5.7)(980,7.0)(984,2.35)(986,5.75)
(990,5.7)(994,2.4)(996,7.0)(1000,5.75)};
\end{axis}
\end{tikzpicture}
\end{document}
